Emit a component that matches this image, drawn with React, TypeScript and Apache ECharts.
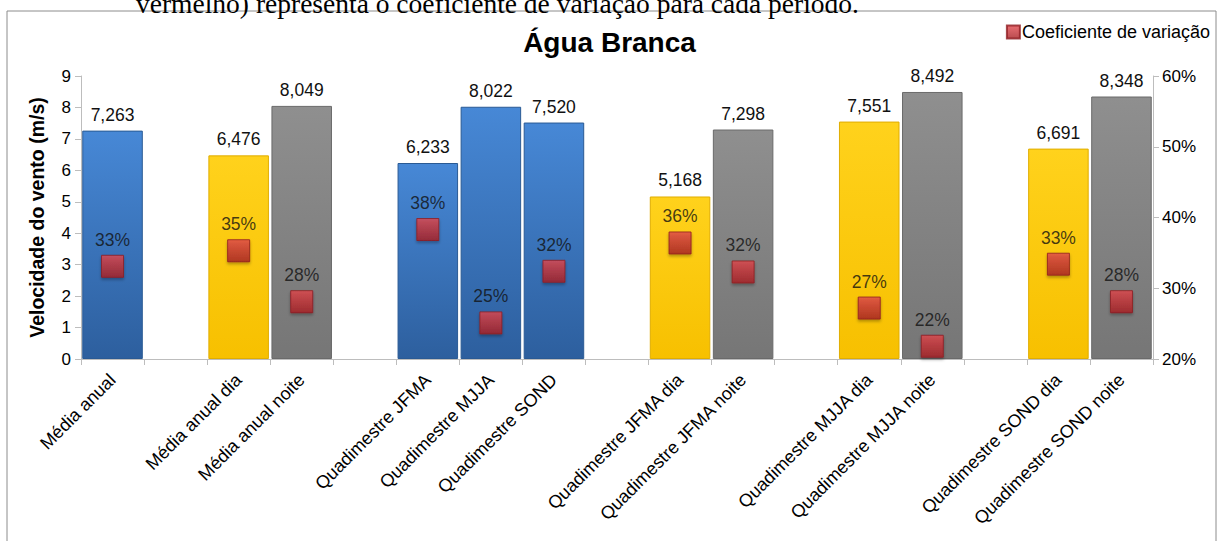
import React, { useEffect, useRef } from "react";
import * as echarts from "echarts";

const categories = [
  "Média anual", "",
  "Média anual dia", "Média anual noite", "",
  "Quadimestre JFMA", "Quadimestre MJJA", "Quadimestre SOND", "",
  "Quadimestre JFMA dia", "Quadimestre JFMA noite", "",
  "Quadimestre MJJA dia", "Quadimestre MJJA noite", "",
  "Quadimestre SOND dia", "Quadimestre SOND noite",
];
// wind speed (m/s); null = blank spacer slot
const speeds: (number | null)[] = [
  7.263, null,
  6.476, 8.049, null,
  6.233, 8.022, 7.52, null,
  5.168, 7.298, null,
  7.551, 8.492, null,
  6.691, 8.348,
];
// coefficient of variation (%)
const cvValues: (number | null)[] = [
  33.1, null,
  35.3, 28.1, null,
  38.3, 25.1, 32.4, null,
  36.4, 32.3, null,
  27.2, 21.8, null,
  33.4, 28.1,
];
// bar group: a = all day, d = day, n = night
const groups = ["a", "", "d", "n", "", "a", "a", "a", "", "d", "n", "", "d", "n", "", "d", "n"];
const leftTicks = { min: 0, max: 9, interval: 1 };
const rightTicks = { min: 20, max: 60, interval: 10 };

const grad = (top: string, bottom: string) =>
  new echarts.graphic.LinearGradient(0, 0, 0, 1, [
    { offset: 0, color: top },
    { offset: 1, color: bottom },
  ]);

const styleFor = (g: string) => {
  if (g === "a") return { color: grad("#4788d6", "#2d5f9e"), borderColor: "#2a5a94", borderWidth: 1 };
  if (g === "d") return { color: grad("#ffd21c", "#f7c000"), borderColor: "#e0ad00", borderWidth: 1 };
  return { color: grad("#8f8f8f", "#767676"), borderColor: "#6a6a6a", borderWidth: 1 };
};

const FONT = "Liberation Sans, Arial, sans-serif";

export default function App() {
  const ref = useRef<HTMLDivElement>(null);
  useEffect(() => {
    if (!ref.current) return;
    const chart = echarts.init(ref.current, null, { renderer: "svg" });
    const barData = speeds.map((v, i) =>
      v === null ? "-" : { value: v, itemStyle: styleFor(groups[i]) }
    );
    const cvData = cvValues.map((v) => (v === null ? "-" : v));
    chart.setOption({
      animation: false,
      backgroundColor: "#ffffff",
      textStyle: { fontFamily: FONT },
      title: {
        text: "Água Branca",
        left: "center",
        top: 23,
        textStyle: { fontSize: 28, fontWeight: "bold", color: "#000", fontFamily: FONT },
      },
      legend: {
        data: ["Coeficiente de variação"],
        right: 4,
        top: 18,
        itemWidth: 13,
        itemHeight: 13,
        itemGap: 4,
        icon: "rect",
        textStyle: { fontSize: 18, color: "#000", fontFamily: FONT, padding: [0, 0, 0, -3] },
      },
      graphic: [
        {
          type: "rect",
          shape: { x: 7, y: 11, width: 1209, height: 560 },
          style: { fill: "none", stroke: "#8c8c8c", lineWidth: 1 },
          silent: true,
        },
        {
          type: "text",
          x: 136,
          y: -11,
          style: {
            text: "vermelho) representa o coeficiente de variação para cada período.",
            fontSize: 27.5,
            fontFamily: "Liberation Serif, Times New Roman, serif",
            fill: "#000",
          },
          silent: true,
        },
      ],
      grid: { left: 81, right: 66, top: 76, bottom: 182, containLabel: false },
      xAxis: {
        type: "category",
        data: categories,
        boundaryGap: true,
        axisLine: { lineStyle: { color: "#bdbdbd" } },
        axisTick: { show: true, interval: 0, length: 6, lineStyle: { color: "#bdbdbd" } },
        axisLabel: { interval: 0, rotate: 45, fontSize: 18, color: "#000", fontFamily: FONT, margin: 18 },
      },
      yAxis: [
        {
          type: "value",
          ...leftTicks,
          name: "Velocidade do vento (m/s)",
          nameLocation: "middle",
          nameGap: 34,
          nameTextStyle: { fontSize: 19.5, fontWeight: "bold", color: "#000", fontFamily: FONT },
          splitLine: { show: false },
          axisLine: { show: true, lineStyle: { color: "#bdbdbd" } },
          axisTick: { show: true, length: 6, lineStyle: { color: "#bdbdbd" } },
          axisLabel: { fontSize: 17, color: "#000", fontFamily: FONT, margin: 10 },
        },
        {
          type: "value",
          ...rightTicks,
          position: "right",
          splitLine: { show: false },
          axisLine: { show: true, lineStyle: { color: "#bdbdbd" } },
          axisTick: { show: true, length: 6, lineStyle: { color: "#bdbdbd" } },
          axisLabel: { fontSize: 17, color: "#000", fontFamily: FONT, margin: 9, formatter: "{value}%" },
        },
      ],
      series: [
        {
          type: "bar",
          yAxisIndex: 0,
          data: barData,
          barWidth: "96%",
          label: {
            show: true,
            position: "top",
            distance: 7,
            fontSize: 17.5,
            color: "#111",
            fontFamily: FONT,
            formatter: (p: any) => Number(p.value).toFixed(3).replace(".", ","),
          },
        },
        {
          name: "Coeficiente de variação",
          type: "scatter",
          yAxisIndex: 1,
          data: cvData,
          symbol: "rect",
          symbolSize: 22,
          itemStyle: {
            color: grad("#e2494e", "#a82024"),
            borderColor: "#8e1c20",
            borderWidth: 1,
            shadowColor: "rgba(0,0,0,0.35)",
            shadowBlur: 3,
            shadowOffsetY: 2,
          },
          label: {
            show: true,
            position: "top",
            distance: 6,
            fontSize: 17.5,
            color: "#111",
            fontFamily: FONT,
            formatter: (p: any) => `${Math.round(Number(p.value))}%`,
          },
          z: 5,
        },
      ],
    });
    return () => chart.dispose();
  }, []);
  return (
    <div
      ref={ref}
      style={{ position: "absolute", left: 0, top: 0, width: 1219, height: 541, background: "#fff" }}
    />
  );
}
